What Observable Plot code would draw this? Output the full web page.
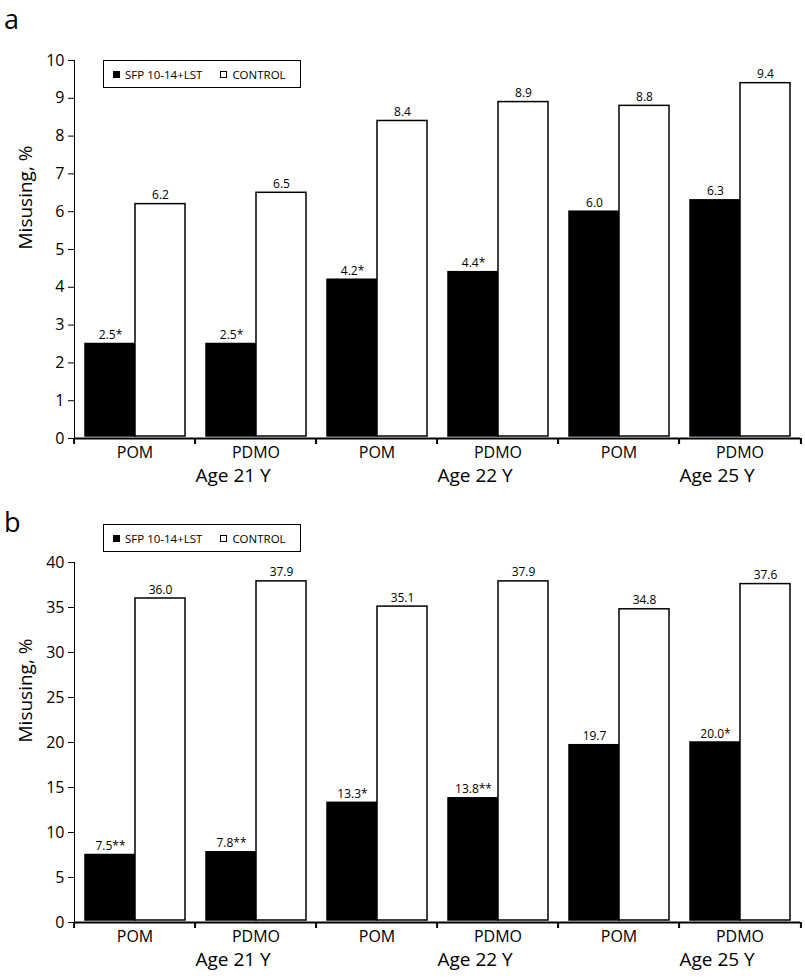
<!DOCTYPE html>
<html>
<head>
<meta charset="utf-8">
<script src="https://cdn.jsdelivr.net/npm/d3@7"></script>
<script src="https://cdn.jsdelivr.net/npm/@observablehq/plot@0.6"></script>
<style>
  body { margin: 0; background: #fff; font-family: "Open Sans", "DejaVu Sans", sans-serif; color: #000; }
  #root { width: 805px; }
  .panel { position: relative; width: 805px; height: 490px; }
  .panel svg { display: block; }
  .letter { position: absolute; left: 4px; font-size: 27px; line-height: normal; }
  .legend { position: absolute; left: 103px; width: 198px; height: 28px; border: 1.5px solid #000;
            box-sizing: border-box; display: flex; align-items: center; font-size: 11.5px; background: #fff; }
  .sw { display: inline-block; width: 7px; height: 7px; box-sizing: border-box; border: 1.5px solid #000; margin-right: 5px; }
  .sw.blk { background: #000; margin-left: 9px; }
  .sw.wht { background: #fff; margin-left: 18px; }
</style>
</head>
<body>
<div id="root"></div>
<script>
// ---- data ----
const ages = ["21", "22", "25"];
const measures = ["POM", "PDMO"];
const seriesNames = ["SFP 10-14+LST", "CONTROL"];
const seriesColors = ["#000000", "#ffffff"];

const panelA_sfp     = [2.5, 2.5, 4.2, 4.4, 6.0, 6.3];
const panelA_sfpSig  = ["*", "*", "*", "*", "", ""];
const panelA_control = [6.2, 6.5, 8.4, 8.9, 8.8, 9.4];
const panelA_yTicks  = [0, 1, 2, 3, 4, 5, 6, 7, 8, 9, 10];

const panelB_sfp     = [7.5, 7.8, 13.3, 13.8, 19.7, 20.0];
const panelB_sfpSig  = ["**", "**", "*", "**", "", "*"];
const panelB_control = [36.0, 37.9, 35.1, 37.9, 34.8, 37.6];
const panelB_yTicks  = [0, 5, 10, 15, 20, 25, 30, 35, 40];

const yTitle = "Misusing, %";

// ---- layout ----
const W = 805, H = 490, ML = 71, MR = 3;
const FONT = '"Open Sans", "DejaVu Sans", sans-serif';

const groupKeys = [];
ages.forEach(a => measures.forEach(m => groupKeys.push(a + "|" + m)));
const groupW = (W - ML - MR) / groupKeys.length;

function makePanel({letter, sfp, sig, control, yTicks, marginTop, marginBottom, legendTop, letterTop}) {
  const rows = [];
  groupKeys.forEach((g, i) => {
    rows.push({group: g, series: seriesNames[0], value: sfp[i], label: sfp[i].toFixed(1) + sig[i]});
    rows.push({group: g, series: seriesNames[1], value: control[i], label: control[i].toFixed(1)});
  });
  const ageKeys = groupKeys.filter(k => k.endsWith("|PDMO"));

  const chart = Plot.plot({
    width: W, height: H,
    marginLeft: ML, marginRight: MR, marginTop, marginBottom,
    style: {fontFamily: FONT, fontSize: "16px", color: "#000", background: "#fff", overflow: "visible"},
    fx: {domain: groupKeys, paddingInner: 0, paddingOuter: 0, label: null},
    x: {domain: seriesNames, paddingInner: 0, paddingOuter: 0.196, axis: null},
    y: {domain: [0, yTicks[yTicks.length - 1]], ticks: yTicks, tickSize: 6, tickPadding: 4, label: null, line: true},
    color: {domain: seriesNames, range: seriesColors},
    marks: [
      Plot.barY(rows, {fx: "group", x: "series", y: "value", fill: "series",
                       stroke: "#000", strokeWidth: 1.5, insetBottom: 2}),
      Plot.text(rows, {fx: "group", x: "series", y: "value", text: "label",
                       lineAnchor: "bottom", dy: -5, fontSize: 12}),
      Plot.ruleY([0], {strokeWidth: 2}),
      // group labels
      Plot.axisFx({anchor: "bottom", tickSize: 0, tickPadding: 8, fontSize: 16, label: null,
                   tickFormat: k => k.split("|")[1]}),
      // group boundary ticks
      Plot.axisFx({anchor: "bottom", tickSize: 6, strokeWidth: 2, label: null, dx: -groupW / 2,
                   tickFormat: () => ""}),
      Plot.axisFx({anchor: "bottom", ticks: [groupKeys[groupKeys.length - 1]], tickSize: 6, strokeWidth: 2,
                   label: null, dx: groupW / 2, tickFormat: () => ""}),
      // age labels
      Plot.text(ageKeys, {fx: d => d, frameAnchor: "bottom-left", dy: 43, fontSize: 19,
                          text: d => "Age " + d.split("|")[0] + " Y"}),
      // y title
      Plot.text([yTitle], {fx: () => groupKeys[0], frameAnchor: "left", rotate: -90, dx: -49,
                           fontSize: 19, text: d => d})
    ]
  });

  const div = document.createElement("div");
  div.className = "panel";
  div.appendChild(chart);

  const l = document.createElement("div");
  l.className = "letter";
  l.style.top = letterTop + "px";
  l.textContent = letter;
  div.appendChild(l);

  const leg = document.createElement("div");
  leg.className = "legend";
  leg.style.top = legendTop + "px";
  leg.innerHTML = '<span class="sw blk"></span><span>' + seriesNames[0] +
                  '</span><span class="sw wht"></span><span>' + seriesNames[1] + '</span>';
  div.appendChild(leg);
  return div;
}

const root = document.getElementById("root");
root.appendChild(makePanel({letter: "a", sfp: panelA_sfp, sig: panelA_sfpSig, control: panelA_control,
  yTicks: panelA_yTicks, marginTop: 60, marginBottom: 52, legendTop: 60, letterTop: 0}));
root.appendChild(makePanel({letter: "b", sfp: panelB_sfp, sig: panelB_sfpSig, control: panelB_control,
  yTicks: panelB_yTicks, marginTop: 72, marginBottom: 58, legendTop: 34, letterTop: 13}));
</script>
</body>
</html>
